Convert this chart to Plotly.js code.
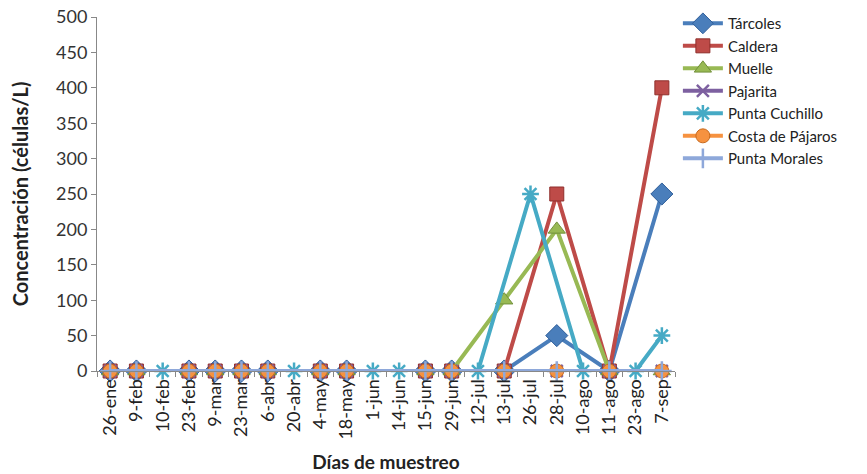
<!DOCTYPE html>
<html>
<head>
<meta charset="utf-8">
<script src="https://cdn.plot.ly/plotly-3.0.1.min.js"></script>
<style>html,body{margin:0;padding:0;background:#fff}#chart{width:867px;height:474px}</style>
</head>
<body>
<div id="chart"></div>
<script>
var categories = ["26-ene","9-feb","10-feb","23-feb","9-mar","23-mar","6-abr","20-abr","4-may","18-may","1-jun","14-jun","15-jun","29-jun","12-jul","13-jul","26-jul","28-jul","10-ago","11-ago","23-ago","7-sep"];
var tarcoles      = [0,0,null,0,0,0,0,null,0,0,null,null,0,0,null,0,null,50,null,0,null,250];
var caldera       = [0,0,null,0,0,0,0,null,0,0,null,null,0,0,null,0,null,250,null,0,null,400];
var muelle        = [0,0,null,0,0,0,0,null,0,0,null,null,0,0,null,100,null,200,null,0,null,0];
var pajarita      = [0,0,null,0,0,0,0,null,0,0,null,null,0,0,null,0,null,0,null,0,null,0];
var puntaCuchillo = [null,null,0,null,null,null,null,0,null,null,0,0,null,null,0,null,250,null,0,null,0,50];
var costaPajaros  = [0,0,null,0,0,0,0,null,0,0,null,null,0,0,null,0,null,0,null,0,null,0];
var puntaMorales  = [0,0,null,0,0,0,0,null,0,0,null,null,0,0,null,0,null,0,null,0,null,0];
var seriesNames = ["Tárcoles","Caldera","Muelle","Pajarita","Punta Cuchillo","Costa de Pájaros","Punta Morales"];
var yTicks = [0,50,100,150,200,250,300,350,400,450,500];

var styles = [
  {color:"#4A7EBB", symbol:"diamond", size:17, mline:{color:"#2F5E9A",width:1}},
  {color:"#BE4B48", symbol:"square", size:14, mline:{color:"#8F2F2C",width:1}},
  {color:"#98B954", symbol:"triangle-up", size:15, mline:{color:"#71903A",width:1}},
  {color:"#7D60A0", symbol:"x-thin-open", size:12, mline:{color:"#7D60A0",width:2.5}},
  {color:"#46AAC5", symbol:"asterisk-open", size:14, mline:{color:"#46AAC5",width:2.5}},
  {color:"#F69240", symbol:"circle", size:14, mline:{color:"#C86A1E",width:1}},
  {color:"#8EA8DA", symbol:"cross-thin-open", size:14, mline:{color:"#8EA8DA",width:2.5}}
];
var dataSets = [tarcoles,caldera,muelle,pajarita,puntaCuchillo,costaPajaros,puntaMorales];

var traces = dataSets.map(function(vals,i){
  var s = styles[i];
  return {
    type:"scatter", mode:"lines+markers", name:seriesNames[i],
    x:categories, y:vals, connectgaps:true, cliponaxis:false,
    line:{color:s.color,width:4},
    marker:{symbol:s.symbol,size:s.size,color:s.color,line:s.mline}
  };
});

var layout = {
  width:867, height:474,
  margin:{l:97,r:192,t:17,b:103,autoexpand:false},
  paper_bgcolor:"#fff", plot_bgcolor:"#fff",
  font:{family:"Lato, 'Open Sans', sans-serif", size:16, color:"#222"},
  showlegend:true,
  legend:{x:1.005, y:1.028, xanchor:"left", yanchor:"top", font:{size:15,color:"#222"}, itemwidth:40, tracegroupgap:0, bgcolor:"rgba(0,0,0,0)"},
  xaxis:{type:"category", categoryorder:"array", categoryarray:categories, range:[-0.5,21.5], automargin:false,
    tickangle:-90, ticks:"outside", ticklen:5, tickcolor:"#888", tickson:"boundaries",
    showline:true, linecolor:"#888", linewidth:1, showgrid:false, zeroline:false,
    tickfont:{size:18,color:"#222"},
    title:{text:"<b>Días de muestreo</b>", font:{size:19,color:"#222"}, standoff:17}},
  yaxis:{range:[0,500], tickvals:yTicks, ticks:"outside", ticklen:5, tickcolor:"#888", automargin:false,
    showline:true, linecolor:"#888", linewidth:1, showgrid:false, zeroline:false,
    tickfont:{size:18,color:"#333"},
    title:{text:"<b>Concentración (células/L)</b>", font:{size:20,color:"#222"}, standoff:22}}
};

Plotly.newPlot("chart", traces, layout, {displayModeBar:false, staticPlot:true});
</script>
</body>
</html>
